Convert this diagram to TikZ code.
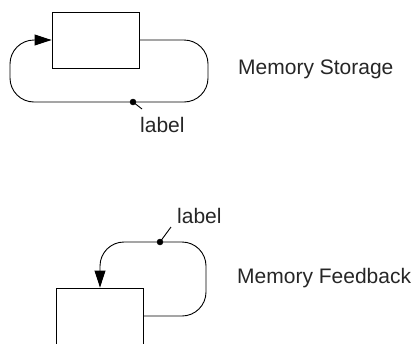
\documentclass[tikz,border=0pt]{standalone}
\usepackage{fontspec}
\setmainfont{Liberation Sans}
\usepackage{xcolor}
\usepackage{tikz}
\usetikzlibrary{arrows.meta}

\begin{document}
\begin{tikzpicture}[x=1pt, y=-1pt,
  memblock/.style={draw, line width=0.9pt, minimum width=87pt, minimum height=56pt, inner sep=0pt},
  loopline/.style={line width=0.9pt, rounded corners=24pt, -{Triangle[length=17pt, width=11pt]}},
  tagline/.style={line width=0.9pt},
  txt/.style={inner sep=0pt, anchor=base west, font=\fontsize{21}{25}\selectfont, text=black!85}]
\useasboundingbox (0,0) rectangle (414,343);

% memory storage
\node[memblock] (box1) at (95.5,40) {};
\draw[loopline] (box1.east) -| (208,102) -| (10,40) -- (box1.west);
\coordinate (dot1) at (133,102);
\draw[fill] (dot1) circle (3pt);
\coordinate (tick1) at (142,109);
\draw[tagline] (dot1) -- (tick1);
\node[txt] (lab1) at (140,132) {label};
\node[txt] (name1) at (238,74) {Memory Storage};

% memory feedback
\node[memblock] (box2) at (100,316) {};
\draw[loopline] (box2.east) -| (206,242) -| (box2.north);
\coordinate (dot2) at (160,242);
\draw[fill] (dot2) circle (3pt);
\coordinate (tick2) at (171,227);
\draw[tagline] (dot2) -- (tick2);
\node[txt] (lab2) at (177,223) {label};
\node[txt] (name2) at (237,283) {Memory Feedback};
\end{tikzpicture}
\end{document}
